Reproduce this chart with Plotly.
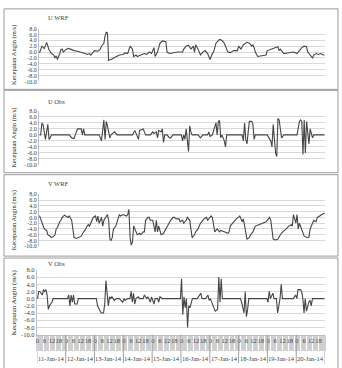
import plotly.graph_objects as go

# ---------------- data (hour index 0..239, 11-Jan-14 .. 20-Jan-14) ----------------
dates = ["11-Jan-14", "12-Jan-14", "13-Jan-14", "14-Jan-14", "15-Jan-14",
         "16-Jan-14", "17-Jan-14", "18-Jan-14", "19-Jan-14", "20-Jan-14"]
hour_labels = ["0", "6", "12", "18"]
y_ticks = [8, 6, 4, 2, 0, -2, -4, -6, -8, -10]

u_wrf_h = [0, 2, 4, 6, 8, 10, 12, 13, 14, 15, 17, 18, 19, 20, 22, 24, 26, 29, 32, 35, 38, 40, 42, 43,
           46, 49, 51, 52, 54, 55, 56, 57, 58, 60, 62, 64, 67, 70, 72, 74, 75, 76, 78, 79, 81, 82, 85,
           88, 90, 92, 94, 96, 97, 99, 101, 103, 106, 107, 109, 112, 116, 120, 121, 123, 125, 127,
           129, 130, 131, 133, 135, 137, 139, 141, 143, 145, 146, 148, 151, 153, 155, 157, 158, 160,
           163, 166, 167, 169, 171, 174, 176, 178, 179, 180, 181, 183, 186, 190, 191, 194, 198, 200,
           201, 202, 204, 205, 208, 211, 213, 216, 218, 220, 222, 224, 225, 227, 229, 230, 232, 234,
           236, 238, 239]
u_wrf_v = [-0.3, 2.0, 1.2, 3.3, 0.8, -0.5, -1.0, -2.0, -1.3, -2.5, -0.5, 0.8, 1.0, 0.0, 0.8, 1.3,
           1.0, 0.5, 0.3, 0.0, -0.5, -0.8, -0.5, -1.0, 0.5, 0.3, 1.0, 2.0, 3.0, 5.5, 6.7, 6.5, -2.8,
           -2.5, -2.0, -1.5, -1.0, -0.8, -0.3, -0.5, 1.0, 2.0, 1.0, -1.5, -1.0, -1.5, -1.0, -0.5,
           -0.8, 0.0, -0.5, 1.5, -1.5, 0.0, 3.0, 3.8, 3.5, 0.0, -0.5, -0.3, 0.0, 0.0, 1.0, 2.0, 2.3,
           1.0, 2.0, 0.0, 2.5, 1.0, -1.0, 0.0, 0.5, -0.5, -2.5, -0.5, 0.0, 3.0, 4.3, 4.0, 3.0, 1.0,
           0.0, -0.2, 0.5, 0.5, 2.0, 1.0, 2.5, 3.3, 3.0, 2.0, 2.5, 1.5, 0.0, -1.5, -1.3, -1.0, 0.5,
           1.0, 1.5, 1.8, 0.5, 1.0, 0.0, -0.5, -0.3, 0.0, 0.0, -0.5, 0.5, 1.5, 2.0, 1.8, 0.0, -1.0,
           -2.0, -1.0, -0.5, -0.8, -0.5, -1.0, -1.0]

u_obs_h = [0, 1, 2, 3, 5, 7, 8, 9, 10, 25, 27, 29, 30, 32, 35, 36, 37, 38, 50, 52, 54, 55, 56, 57,
           59, 60, 63, 65, 78, 79, 80, 82, 83, 84, 86, 87, 89, 93, 95, 96, 98, 99, 100, 102, 103,
           104, 105, 107, 109, 110, 112, 119, 120, 121, 122, 123, 125, 126, 127, 128, 133, 135, 137,
           141, 142, 143, 145, 146, 148, 149, 150, 151, 152, 153, 155, 156, 157, 170, 171, 172, 173,
           174, 176, 178, 179, 180, 181, 191, 194, 195, 196, 198, 199, 200, 201, 203, 205, 216, 218,
           219, 220, 221, 222, 223, 224, 226, 227, 229, 230, 239]
u_obs_v = [0, 0, 3.9, 3.5, -1.5, 3.5, -1.5, -1.0, 0, 0, -1.0, -1.2, 0, 2.0, 2.0, 0, 2.0, 0, 0, -2.0,
           5.0, -1.5, 4.5, 3.0, -1.0, 0, 1.0, 0, 0, 1.0, 1.5, -0.5, -1.5, 1.5, 2.0, 2.0, 0, 0, 1.0,
           0.5, 1.0, -1.0, 1.5, 1.0, 2.0, -2.5, 0, 0, -1.0, -1.0, 0, 0, -2.0, 0, -1.5, 2.0, -5.5, 3.0,
           1.0, 0, 0, -1.0, 0, 0, 1.0, -0.5, 0, 1.5, 4.0, 0, 4.5, 4.8, -1.0, 0, -2.0, -4.0, 0, 0,
           -2.0, 4.0, -1.5, -3.0, 4.5, 4.5, 3.5, -1.5, 0, 0, -2.0, -4.0, 3.5, -6.0, -7.2, 5.5, 5.0,
           -1.0, 0, 0, 4.5, 5.0, 4.5, -6.5, 5.0, -6.0, 4.5, -3.0, 2.0, -1.0, 0, 0]

v_wrf_h = [0, 2, 4, 6, 7, 9, 10, 12, 13, 14, 15, 17, 18, 19, 21, 22, 24, 25, 27, 28, 29, 31, 33, 35,
           37, 38, 40, 41, 42, 43, 45, 47, 48, 49, 50, 52, 53, 54, 57, 58, 59, 60, 61, 62, 64, 67,
           68, 70, 73, 74, 75, 76, 77, 78, 79, 81, 82, 84, 85, 87, 88, 89, 91, 92, 93, 95, 96, 97,
           98, 99, 100, 102, 104, 106, 107, 109, 110, 112, 113, 115, 117, 118, 120, 121, 123, 124,
           125, 126, 128, 130, 131, 133, 134, 135, 137, 138, 140, 141, 142, 144, 145, 146, 147, 148,
           149, 151, 152, 155, 158, 159, 160, 162, 165, 167, 168, 169, 170, 171, 172, 173, 174, 176,
           177, 179, 180, 181, 184, 187, 190, 191, 193, 194, 196, 198, 200, 202, 204, 207, 209, 211,
           212, 213, 215, 216, 217, 218, 219, 221, 222, 225, 226, 227, 229, 230, 232, 233, 235, 237,
           239]
v_wrf_v = [0.6, -2.0, -4.0, -4.5, -6.0, -6.5, -7.0, -6.5, -6.0, -4.0, -3.5, -1.5, -1.0, 0.0, 0.8,
           0.5, 0.0, 0.5, -1.0, -4.0, -7.0, -7.3, -7.0, -6.5, -5.0, -4.5, -3.0, -2.5, -3.0, -2.0,
           0.0, 0.5, -1.5, 0.5, -2.0, 0.0, -3.0, -1.0, 1.0, -1.0, -7.5, -8.0, -7.0, -4.0, -3.0, 1.0,
           0.5, 1.0, 0.5, 1.0, 2.8, -7.0, -9.6, -8.5, -3.0, -5.0, -6.0, -5.5, -6.0, -5.0, -5.0,
           -1.0, 0.0, 0.0, -1.0, -1.0, -3.0, -5.0, -1.0, -5.0, -3.0, -6.0, -5.5, -4.0, -3.0, -2.0,
           -1.0, 0.0, 0.0, -0.5, -0.5, -1.5, -1.0, -2.0, -1.0, 0.0, -0.5, -1.0, -7.0, -6.0, -5.0,
           -4.0, -3.0, -2.0, -1.0, -0.5, 0.0, -1.0, -0.5, 0.5, 0.0, -2.0, -5.0, -4.5, -4.0, -5.0,
           -4.5, -5.0, -5.5, -5.0, -3.0, -2.0, -0.5, 0.0, 0.5, -0.5, -1.5, -0.5, -3.0, -6.0, -7.5,
           -7.0, -6.0, -5.0, -4.0, -3.0, -2.5, -2.0, -1.5, -1.0, 0.0, -1.0, -7.5, -7.8, -7.5, -6.0,
           -5.0, -4.0, -3.0, -2.5, -3.0, 1.0, -2.0, 1.0, -4.0, -2.0, -3.0, -5.0, -6.5, -7.0, -6.8,
           -4.0, -2.0, -1.0, -1.5, 0.0, 0.5, 1.0, 1.5]

v_obs_h = [0, 1, 2, 3, 4, 5, 6, 7, 8, 9, 10, 12, 13, 25, 26, 27, 28, 29, 30, 31, 33, 34, 49, 50, 52,
           53, 55, 56, 57, 58, 59, 60, 61, 62, 63, 64, 66, 68, 71, 72, 73, 75, 77, 78, 79, 80, 81,
           82, 84, 85, 88, 89, 91, 92, 94, 95, 97, 98, 100, 101, 102, 104, 119, 120, 121, 122, 123,
           124, 125, 126, 127, 128, 129, 133, 136, 137, 140, 142, 143, 144, 147, 148, 150, 151, 152,
           153, 154, 169, 170, 171, 172, 173, 174, 175, 176, 191, 192, 193, 194, 196, 197, 199, 200,
           202, 203, 204, 213, 215, 216, 217, 219, 220, 221, 222, 223, 224, 225, 226, 227, 228, 229,
           239]
v_obs_v = [0.0, 2.0, 2.0, 1.5, 1.0, 2.5, 2.0, 2.5, 1.0, -3.0, -2.0, -1.0, 0, 0, 1.0, -2.0, 1.0, -1.0,
           1.0, -1.5, -1.5, 0, 0, -2.0, -3.5, -4.0, -4.0, -1.5, 5.0, 0, -2.0, 0.5, 0, 0.5, 0, -0.5, 0,
           0, -1.0, 0, -0.5, 0, 0, 2.0, -1.0, 1.5, -1.5, 0, 0.5, 0, 0, 1.0, 0, 0.5, -1.0, 0.5, -1.5,
           0, 0, -1.0, 0.5, 0, 0, 5.5, -4.5, 0.5, -2.5, 0, -8.0, -2.0, -2.5, -1.0, 0, 0, 1.5, 0, 0,
           1.0, -0.5, 0, -3.0, -3.5, -3.0, 6.0, -1.0, 5.5, 0, 0, -1.0, -2.5, -4.0, 2.0, -5.0, -3.0,
           0, 0, -1.0, 2.0, 0, 1.5, 0, 0, -4.0, 0, 4.0, 0, 0, 1.0, 0, 2.5, 2.5, 2.0, 0, -4.0, 0,
           -3.5, -2.0, -1.0, -0.5, -2.0, 0, 0]

panels = [
    ("U WRF", u_wrf_h, u_wrf_v),
    ("U Obs", u_obs_h, u_obs_v),
    ("V WRF", v_wrf_h, v_wrf_v),
    ("V Obs", v_obs_h, v_obs_v),
]

# ---------------- layout geometry (pixels) ----------------
W, H = 342, 368
def fx(p): return p / W
def fy(p): return 1 - p / H

# (plot left, plot right, y of 8.0, y of -10.0, box top, box bottom, title y, ytitle x)
geo = [
    (38, 325, 25, 79, 5, 87, 14, 13),
    (38, 325, 109, 164, 88, 172, 99, 13),
    (38, 325, 194, 247, 174, 257, 183, 13),
    (36, 325, 271, 337, 259, 372, 265, 13),
]

FONT = "Liberation Serif"
LINE = "#454545"
GRID = "#d9d9d9"

fig = go.Figure()
layout = dict(width=W, height=H, margin=dict(l=0, r=0, t=0, b=0),
              paper_bgcolor="white", plot_bgcolor="white", showlegend=False,
              font=dict(family=FONT, size=7, color="#404040"))
shapes, annots = [], []

for i, ((title, hx, vy), g) in enumerate(zip(panels, geo)):
    n = "" if i == 0 else str(i + 1)
    xl, xr, yt, yb, bt, bb, ty, ytx = g
    fig.add_trace(go.Scatter(x=hx, y=vy, mode="lines", xaxis="x" + n, yaxis="y" + n,
                             line=dict(color=LINE, width=1.1), hoverinfo="skip"))
    xa = dict(domain=[fx(xl), fx(xr)], range=[-0.5, 239.5], anchor="y" + n,
              showgrid=False, zeroline=False, showticklabels=False, ticks="",
              showline=(i == 3), linecolor="#bfbfbf", linewidth=1)
    if i == 3:
        tv, tt = [], []
        for d in range(len(dates)):
            for hl in hour_labels:
                tv.append(d * 24 + int(hl))
                tt.append(hl)
        xa.update(showticklabels=True, tickvals=tv, ticktext=tt, ticks="", tickangle=0,
                  tickfont=dict(family=FONT, size=6.5, color="#404040"),
                  minor=dict(dtick=1, tick0=-0.5, ticks="outside", ticklen=15,
                             tickcolor="#cfcfcf", tickwidth=1))
    ya = dict(domain=[fy(yb), fy(yt)], range=[-10, 8], anchor="x" + n,
              tickvals=y_ticks, ticktext=[f"{v:.1f}" for v in y_ticks],
              showgrid=True, gridcolor=GRID, gridwidth=1, zeroline=False,
              showline=True, linecolor="#bfbfbf", linewidth=1, ticks="",
              tickfont=dict(family=FONT, size=6 if i < 3 else 6.5, color="#404040"))
    layout["xaxis" + n] = xa
    layout["yaxis" + n] = ya
    # panel border
    shapes.append(dict(type="rect", xref="paper", yref="paper",
                       x0=fx(3), x1=fx(338), y0=fy(bb), y1=fy(bt),
                       line=dict(color="#9a9a9a", width=1), fillcolor="rgba(0,0,0,0)"))
    # title
    annots.append(dict(text=title, xref="paper", yref="paper", x=fx(45), y=fy(ty),
                       xanchor="left", yanchor="middle", showarrow=False,
                       font=dict(family=FONT, size=6.5, color="#404040")))
    # y axis title
    annots.append(dict(text="Kecepatan Angin (m/s)", xref="paper", yref="paper",
                       x=fx(ytx), y=fy((yt + yb) / 2), textangle=-90,
                       xanchor="center", yanchor="middle", showarrow=False,
                       font=dict(family=FONT, size=7 if i == 3 else 6.5, color="#202020")))

# date labels and day separators on the bottom panel
for d, lab in enumerate(dates):
    annots.append(dict(text=lab, xref="x4", yref="paper", x=d * 24 + 11.5, y=fy(361),
                       xanchor="center", yanchor="middle", showarrow=False,
                       font=dict(family=FONT, size=6.5, color="#404040")))
for d in range(len(dates) + 1):
    shapes.append(dict(type="line", xref="x4", yref="paper", x0=d * 24 - 0.5, x1=d * 24 - 0.5,
                       y0=fy(366), y1=fy(337), line=dict(color="#a0a0a0", width=1)))

layout["shapes"] = shapes
layout["annotations"] = annots
fig.update_layout(**layout)
fig.write_html("out.html")
